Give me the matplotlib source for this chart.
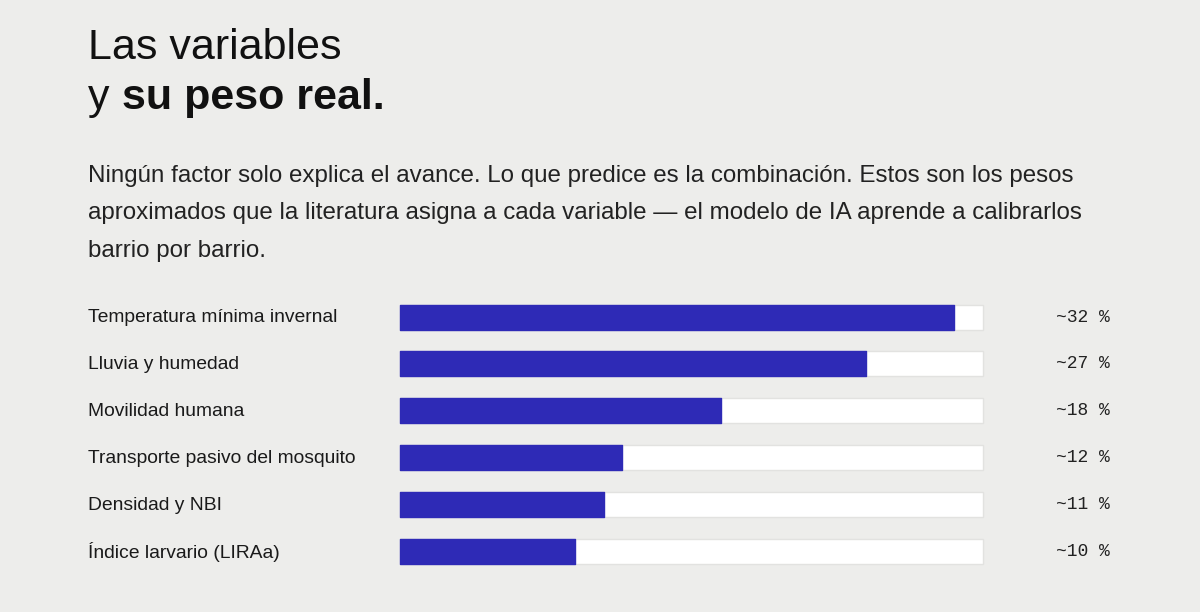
import matplotlib
matplotlib.use("Agg")
import matplotlib.pyplot as plt

# data
variables = ["Temperatura mínima invernal", "Lluvia y humedad", "Movilidad humana",
             "Transporte pasivo del mosquito", "Densidad y NBI", "Índice larvario (LIRAa)"]
pesos = [32, 27, 18, 12, 11, 10]
# fill length of each bar as share of the track (%)
relleno = [95, 80, 55, 38, 35, 30]

bg = "#ededeb"
azul = "#2e2ab6"
plt.rcParams["font.family"] = ["Liberation Sans", "DejaVu Sans"]

W, H = 1200, 612
fig = plt.figure(figsize=(W / 100, H / 100), dpi=100, facecolor=bg)

# text layer in pixel coordinates
tx = fig.add_axes([0, 0, 1, 1])
tx.set_xlim(0, W)
tx.set_ylim(H, 0)
tx.axis("off")
tx.patch.set_alpha(0)

tx.text(88, 59, "Las variables", fontsize=31, color="#111111", va="baseline")
tx.text(88, 109, "y", fontsize=31, color="#111111", va="baseline")
tx.text(122, 109, "su peso real.", fontsize=31, color="#111111", va="baseline", fontweight="bold")

cuerpo = ["Ningún factor solo explica el avance. Lo que predice es la combinación. Estos son los pesos",
          "aproximados que la literatura asigna a cada variable — el modelo de IA aprende a calibrarlos",
          "barrio por barrio."]
for i, linea in enumerate(cuerpo):
    tx.text(88, 182 + i * 37.5, linea, fontsize=17.4, color="#222222", va="baseline")

# bar area: x 400..983 px, rows centred at 317 .. 551 px
x0, x1 = 400, 983
top, paso = 317, 46.8
n = len(variables)
y_top = top - paso / 2
y_bot = top + paso * (n - 1) + paso / 2
ax = fig.add_axes([x0 / W, 1 - y_bot / H, (x1 - x0) / W, (y_bot - y_top) / H])
ax.set_xlim(0, 100)
ax.set_ylim(n - 0.5, -0.5)
ax.axis("off")
ax.patch.set_alpha(0)

pos = list(range(n))
alto = 25 / paso
pistas = ax.barh(pos, [100] * n, height=alto, color="white", edgecolor="#e2e2e0",
                 linewidth=1.0, joinstyle="round")
barras = ax.barh(pos, relleno, height=alto, color=azul, edgecolor=azul,
                 linewidth=1.0, joinstyle="round")
for r in list(pistas) + list(barras):
    r.set_clip_on(False)

for i, (nombre, p) in enumerate(zip(variables, pesos)):
    yc = top + i * paso
    tx.text(88, yc + 1, nombre, fontsize=13.9, color="#1a1a1a", va="center")
    tx.text(1110, yc, "~%d %%" % p, fontsize=13, color="#222222", va="center", ha="right",
            family=["Liberation Mono", "DejaVu Sans Mono"])

fig.savefig("out.png", dpi=100, facecolor=bg)
